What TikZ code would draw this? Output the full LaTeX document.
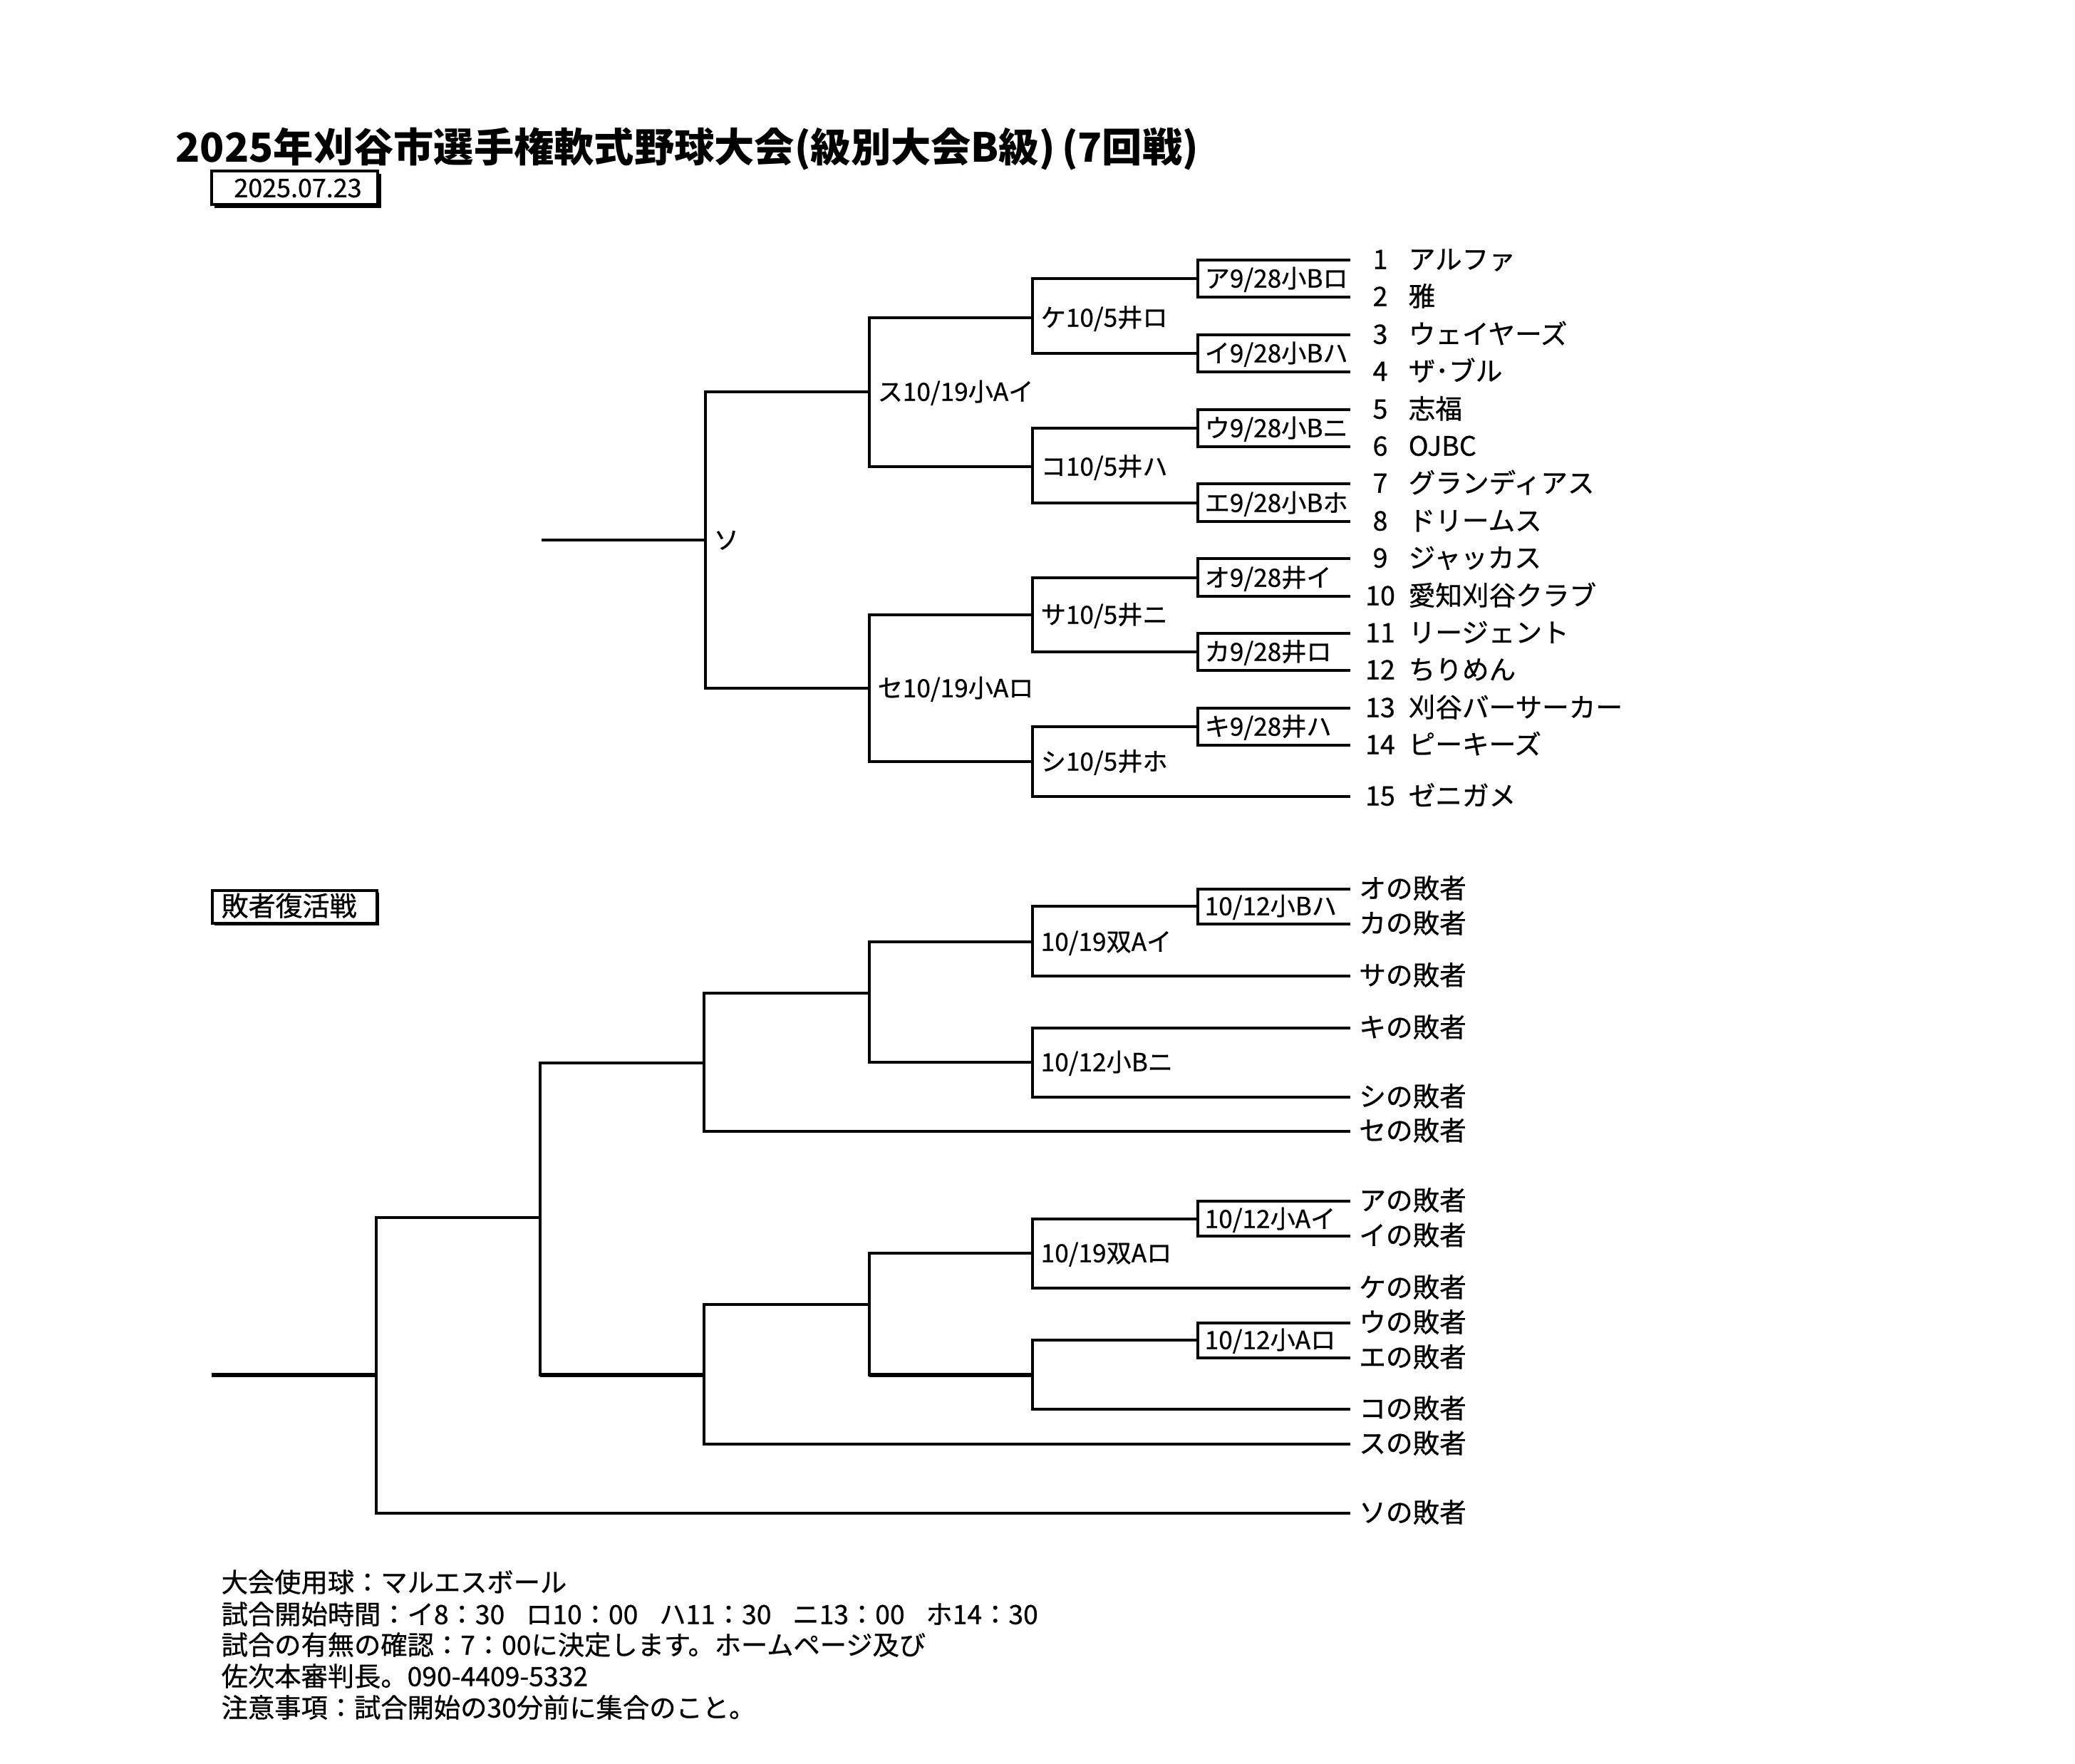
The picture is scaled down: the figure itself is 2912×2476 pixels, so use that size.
\documentclass[tikz,border=0pt]{standalone}
\usepackage{fontspec}
\setmainfont{Noto Sans CJK JP}[FakeBold=0.7]
\newfontfamily\titlefamily{Noto Sans CJK JP}
\newcommand\fTitle{\fontsize{16.0pt}{18pt}\selectfont\titlefamily\bfseries}
\newcommand\fLbl{\fontsize{10.0pt}{12pt}\selectfont}
\newcommand\fName{\fontsize{10.7pt}{12pt}\selectfont}
\newcommand\fFoot{\fontsize{10.6pt}{12pt}\selectfont}
\newcommand\gap{\hspace{0.8em}}
\tikzset{
  br/.style={line width=1.15pt},
  thk/.style={line width=1.7pt},
  lbl/.style={anchor=west, inner sep=0pt, font=\fLbl, text height=0.86em, text depth=0.14em},
  nm/.style={anchor=west, inner sep=0pt, font=\fName, text height=0.86em, text depth=0.14em},
  num/.style={anchor=center, inner sep=0pt, font=\fName, text height=0.86em, text depth=0.14em},
  foot/.style={anchor=west, inner sep=0pt, font=\fFoot, text height=0.86em, text depth=0.14em},
}
\begin{document}
\begin{tikzpicture}[x=0.01cm, y=-0.01cm]
\useasboundingbox (0,0) rectangle (2912,2476);

% ---------- title and date ----------
\node[anchor=west, inner sep=0pt, font=\fTitle] (title) at (246,209) {2025年刈谷市選手権軟式野球大会(級別大会B級)\,(7回戦)};
\draw[line width=1.4pt] (297,240) rectangle (530,287);
\draw[line width=1.1pt] (533,244) -- (533,290) -- (301,290);
\node[inner sep=0pt, font=\fontsize{10.2pt}{11pt}\selectfont] (date) at (418,264) {2025.07.23};

% ---------- main bracket ----------
\foreach \i/\y in {1/365,2/417,3/470,4/522,5/575,6/627,7/679,8/732,9/784,10/837,11/889,12/941,13/994,14/1046,15/1118}
  \coordinate (t\i) at (1895,\y);

\coordinate (mA)  at (1681,391);
\coordinate (mI)  at (1681,496);
\coordinate (mU)  at (1681,601);
\coordinate (mE)  at (1681,706);
\coordinate (mO)  at (1681,811);
\coordinate (mKa) at (1681,915);
\coordinate (mKi) at (1681,1020);
\coordinate (mKe) at (1449,446);
\coordinate (mKo) at (1449,655);
\coordinate (mSa) at (1449,863);
\coordinate (mShi) at (1449,1069);
\coordinate (mSu) at (1220,550);
\coordinate (mSe) at (1220,966);
\coordinate (mSo) at (990,758);
\coordinate (fin1) at (760,758);

\draw[br] (t1) -| (mA) |- (t2);
\draw[br] (t3) -| (mI) |- (t4);
\draw[br] (t5) -| (mU) |- (t6);
\draw[br] (t7) -| (mE) |- (t8);
\draw[br] (t9) -| (mO) |- (t10);
\draw[br] (t11) -| (mKa) |- (t12);
\draw[br] (t13) -| (mKi) |- (t14);
\draw[br] (mA) -| (mKe) |- (mI);
\draw[br] (mU) -| (mKo) |- (mE);
\draw[br] (mO) -| (mSa) |- (mKa);
\draw[br] (mKi) -| (mShi) |- (t15);
\draw[br] (mKe) -| (mSu) |- (mKo);
\draw[br] (mSa) -| (mSe) |- (mShi);
\draw[br] (mSu) -| (mSo) |- (mSe);
\draw[br] (mSo) -- (fin1);

% match labels
\node[lbl] (lA)  at (1690,391) {ア9/28小Bロ};
\node[lbl] (lI)  at (1690,496) {イ9/28小Bハ};
\node[lbl] (lU)  at (1690,601) {ウ9/28小Bニ};
\node[lbl] (lE)  at (1690,706) {エ9/28小Bホ};
\node[lbl] (lO)  at (1690,811) {オ9/28井イ};
\node[lbl] (lKa) at (1690,915) {カ9/28井ロ};
\node[lbl] (lKi) at (1690,1020) {キ9/28井ハ};
\node[lbl] (lKe) at (1460,446) {ケ10/5井ロ};
\node[lbl] (lKo) at (1460,655) {コ10/5井ハ};
\node[lbl] (lSa) at (1460,863) {サ10/5井ニ};
\node[lbl] (lShi) at (1460,1069) {シ10/5井ホ};
\begin{scope}
  \clip (1222,500) rectangle (1446,600);
  \node[lbl] (lSu) at (1231,550) {ス10/19小Aイ};
\end{scope}
\begin{scope}
  \clip (1222,916) rectangle (1446,1016);
  \node[lbl] (lSe) at (1231,966) {セ10/19小Aロ};
\end{scope}
\node[lbl] (lSo) at (1001,758) {ソ};

% teams
\foreach \i/\y/\t in {1/365/アルファ,2/417/雅,3/470/ウェイヤーズ,4/522/ザ･ブル,5/575/志福,6/627/OJBC,7/679/グランディアス,8/732/ドリームス,9/784/ジャッカス,10/837/愛知刈谷クラブ,11/889/リージェント,12/941/ちりめん,13/994/刈谷バーサーカー,14/1046/ピーキーズ,15/1118/ゼニガメ}{
  \node[num] (n\i) at (1937,\y) {\i};
  \node[nm] (name\i) at (1976,\y) {\t};
}

% ---------- loser bracket ----------
\draw[br] (298,1250) rectangle (529,1296);
\draw[line width=0.8pt] (531,1253) -- (531,1298) -- (301,1298);
\node[anchor=west, inner sep=0pt, font=\fontsize{10.8pt}{12pt}\selectfont, text height=0.86em, text depth=0.14em] (losertitle) at (310,1273) {敗者復活戦};

\coordinate (lo)   at (1895,1248);
\coordinate (lka)  at (1895,1297);
\coordinate (lsa)  at (1895,1370);
\coordinate (lki)  at (1895,1443);
\coordinate (lshi) at (1895,1540);
\coordinate (lse)  at (1895,1588);
\coordinate (la)   at (1895,1686);
\coordinate (li)   at (1895,1735);
\coordinate (lke)  at (1895,1808);
\coordinate (lu)   at (1895,1857);
\coordinate (le)   at (1895,1906);
\coordinate (lko)  at (1895,1978);
\coordinate (lsu)  at (1895,2027);
\coordinate (lso)  at (1895,2124);

\coordinate (qBh)  at (1681,1272);
\coordinate (qAi1) at (1449,1322);
\coordinate (qBn)  at (1449,1491);
\coordinate (q3a)  at (1220,1394);
\coordinate (q4a)  at (988,1492);
\coordinate (qAi)  at (1681,1711);
\coordinate (qAr1) at (1449,1759);
\coordinate (qAr)  at (1681,1881);
\coordinate (q2b)  at (1449,1930);
\coordinate (q3b)  at (1220,1831);
\coordinate (q4b)  at (988,1930);
\coordinate (q5)   at (758,1709);
\coordinate (q6)   at (528,1930);
\coordinate (fin2) at (297,1930);

\draw[br] (lo) -| (qBh) |- (lka);
\draw[br] (qBh) -| (qAi1) |- (lsa);
\draw[br] (lki) -| (qBn) |- (lshi);
\draw[br] (qAi1) -| (q3a) |- (qBn);
\draw[br] (q3a) -| (q4a) |- (lse);
\draw[br] (la) -| (qAi) |- (li);
\draw[br] (qAi) -| (qAr1) |- (lke);
\draw[br] (lu) -| (qAr) |- (le);
\draw[br] (qAr) -| (q2b) |- (lko);
\draw[br] (qAr1) -| (q3b) |- (q2b);
\draw[br] (q3b) -| (q4b) |- (lsu);
\draw[br] (q4a) -| (q5) |- (q4b);
\draw[br] (q5) -| (q6) |- (lso);
\draw[thk] (q6) -- (fin2);
\draw[thk] (q4b) -- (q5 |- q4b);
\draw[thk] (q2b) -- (q3b |- q2b);

\node[lbl] (qlBh)  at (1690,1272) {10/12小Bハ};
\node[lbl] (qlAi1) at (1460,1322) {10/19双Aイ};
\node[lbl] (qlBn)  at (1460,1491) {10/12小Bニ};
\node[lbl] (qlAi)  at (1690,1711) {10/12小Aイ};
\node[lbl] (qlAr1) at (1460,1759) {10/19双Aロ};
\node[lbl] (qlAr)  at (1690,1881) {10/12小Aロ};

\foreach \c/\t in {lo/オ,lka/カ,lsa/サ,lki/キ,lshi/シ,lse/セ,la/ア,li/イ,lke/ケ,lu/ウ,le/エ,lko/コ,lsu/ス,lso/ソ}{
  \node[nm] (x\c) at ([xshift=3.3pt]\c) {\t の敗者};
}

% ---------- footer ----------
\node[foot] (f1) at (310,2222) {大会使用球：マルエスボール};
\node[foot] (f2) at (310,2267) {試合開始時間：イ8：30\gap ロ10：00\gap ハ11：30\gap ニ13：00\gap ホ14：30};
\node[foot] (f3) at (310,2310) {試合の有無の確認：7：00に決定します。ホームページ及び};
\node[foot] (f4) at (310,2354) {佐次本審判長。090-4409-5332};
\node[foot] (f5) at (310,2398) {注意事項：試合開始の30分前に集合のこと。};
\end{tikzpicture}
\end{document}
